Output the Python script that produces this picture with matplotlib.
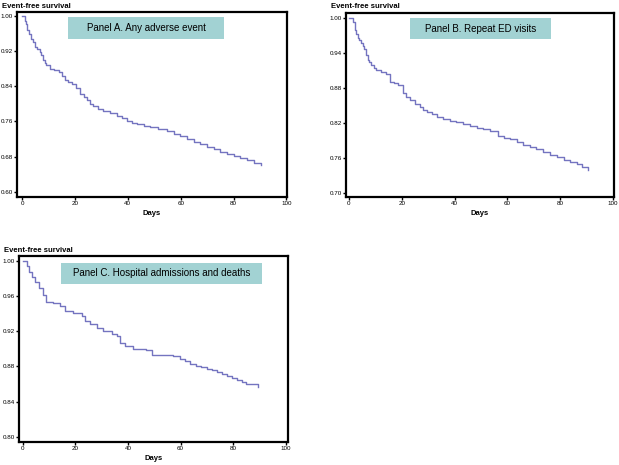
import matplotlib.pyplot as plt
from matplotlib.patches import Rectangle

plt.rcParams['font.family'] = ['Liberation Sans', 'DejaVu Sans']

# Kaplan-Meier curves (days, event-free survival)
days_a = [0, 1.1, 1.6, 2.0, 2.7, 3.4, 4.2, 4.9, 5.8, 6.8, 7.3, 7.8, 8.5, 9.1, 10.6,
          12.0, 13.8, 15.0, 16.3, 17.5, 18.8, 20.4, 22.0, 23.3, 24.5, 25.8, 27.0,
          28.8, 30.8, 33.3, 35.9, 37.7, 39.6, 41.5, 43.4, 46.0, 48.5, 51.5, 54.8,
          57.3, 59.8, 62.3, 64.9, 67.4, 70.0, 72.5, 75.0, 77.5, 80.0, 82.5, 85.0,
          87.7, 90.4]
surv_a = [1.0, 0.989, 0.980, 0.967, 0.958, 0.948, 0.940, 0.930, 0.925, 0.918, 0.910,
          0.900, 0.893, 0.888, 0.880, 0.877, 0.873, 0.864, 0.854, 0.850, 0.845, 0.835,
          0.823, 0.815, 0.808, 0.800, 0.795, 0.789, 0.784, 0.778, 0.773, 0.767, 0.761,
          0.757, 0.753, 0.750, 0.748, 0.743, 0.738, 0.732, 0.726, 0.720, 0.713, 0.708,
          0.702, 0.696, 0.691, 0.686, 0.681, 0.677, 0.672, 0.666, 0.660]

days_b = [0, 1.5, 2.2, 2.8, 3.4, 4.0, 4.7, 5.3, 5.9, 6.6, 7.2, 7.8, 8.5, 9.4, 10.4,
          12.3, 14.2, 15.4, 17.0, 18.6, 20.5, 21.8, 23.0, 24.9, 26.8, 28.1, 29.4,
          31.3, 33.2, 35.7, 38.2, 40.7, 43.3, 45.8, 48.4, 50.9, 53.4, 56.6, 58.8,
          61.0, 63.5, 66.0, 68.5, 71.0, 73.6, 76.2, 78.7, 81.3, 83.8, 86.3, 88.3,
          90.4]
surv_b = [1.0, 0.994, 0.980, 0.973, 0.966, 0.962, 0.957, 0.952, 0.946, 0.937, 0.928,
          0.924, 0.920, 0.915, 0.911, 0.908, 0.904, 0.891, 0.888, 0.885, 0.871, 0.865,
          0.859, 0.853, 0.848, 0.843, 0.839, 0.835, 0.831, 0.827, 0.824, 0.821, 0.818,
          0.815, 0.812, 0.810, 0.807, 0.798, 0.795, 0.792, 0.787, 0.782, 0.779, 0.775,
          0.770, 0.765, 0.761, 0.757, 0.753, 0.749, 0.745, 0.740]

days_c = [0, 1.5, 2.5, 3.4, 4.7, 6.3, 7.6, 8.9, 11.6, 14.2, 16.1, 19.2, 22.4, 23.7,
          25.6, 28.1, 30.6, 33.8, 35.7, 37.0, 38.9, 42.0, 47.0, 49.0, 57.2, 59.7,
          61.6, 63.5, 66.0, 67.9, 69.9, 71.8, 73.7, 75.6, 77.5, 79.4, 81.3, 83.2,
          85.0, 89.5]
surv_c = [1.0, 0.994, 0.9875, 0.982, 0.976, 0.969, 0.961, 0.953, 0.952, 0.948, 0.943,
          0.941, 0.937, 0.931, 0.928, 0.923, 0.920, 0.917, 0.914, 0.906, 0.903, 0.900,
          0.898, 0.893, 0.892, 0.888, 0.886, 0.883, 0.880, 0.879, 0.877, 0.876, 0.874,
          0.871, 0.869, 0.867, 0.865, 0.862, 0.860, 0.857]

panels = [
    ("Panel A. Any adverse event", days_a, surv_a, [1.00, 0.92, 0.84, 0.76, 0.68, 0.60]),
    ("Panel B. Repeat ED visits", days_b, surv_b, [1.00, 0.94, 0.88, 0.82, 0.76, 0.70]),
    ("Panel C. Hospital admissions and deaths", days_c, surv_c, [1.00, 0.96, 0.92, 0.88, 0.84, 0.80]),
]
x_ticks = [0, 20, 40, 60, 80, 100]

W, H = 619, 465
fig = plt.figure(figsize=(W / 100, H / 100), dpi=100)

# pixel layout: axes box (l, t, r, b), xlim, ylim, label box (l, t, r, b)
layout = [
    ((17, 12, 287, 197), (-1.9, 100.2), (0.588, 1.0084), (68, 17, 224, 39)),
    ((346, 13, 614, 197), (-1.1, 100.4), (0.693, 1.0086), (410, 18, 551, 39)),
    ((19, 256, 288, 442), (-1.4, 100.8), (0.794, 1.0053), (61, 263, 262, 284)),
]

for (title, d, s, yt), (box, xl, yl, lab) in zip(panels, layout):
    l, t, r, b = box
    ax = fig.add_axes([l / W, 1 - b / H, (r - l) / W, (b - t) / H])
    ax.step(d, s, where='post', color='#7474c0', lw=1.0)
    ax.set_xlim(*xl)
    ax.set_ylim(*yl)
    ax.set_xticks(x_ticks)
    ax.set_yticks(yt)
    ax.set_yticklabels([f"{v:.2f}" for v in yt], family=['Liberation Sans Narrow', 'Liberation Sans'])
    ax.tick_params(labelsize=4.5, length=2.5, width=1, pad=0.5)
    for sp in ax.spines.values():
        sp.set_linewidth(1.6)
    ax.set_xlabel('Days', fontsize=5.5, fontweight='bold', labelpad=3)
    fig.text((l - 15) / W, 1 - (t - 6) / H, 'Event-free survival', fontsize=5.5,
             fontweight='bold', va='center', ha='left')
    bl, bt, br, bb = lab
    fig.patches.append(Rectangle((bl / W, 1 - bb / H), (br - bl) / W, (bb - bt) / H,
                                 transform=fig.transFigure, facecolor='#a2d2d3',
                                 edgecolor='none', zorder=3))
    fig.text((bl + br) / 2 / W, 1 - (bt + bb) / 2 / H, title, fontsize=7,
             ha='center', va='center', zorder=4)

fig.savefig('out.png', dpi=100)
